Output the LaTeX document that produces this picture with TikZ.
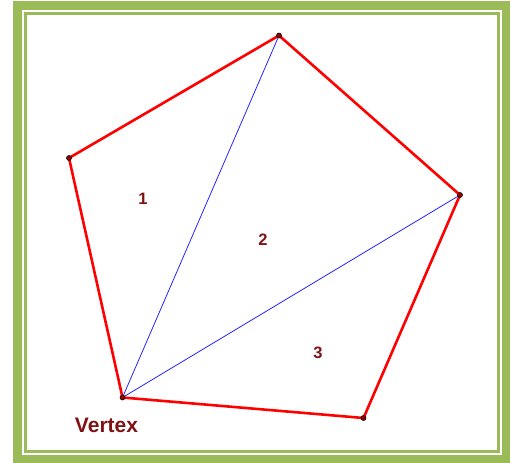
\documentclass[tikz,border=0pt]{standalone}
\usepackage{fontspec}
\setmainfont{Liberation Sans}
\begin{document}
\begin{tikzpicture}[x=1pt,y=-1pt,
  frameout/.style={draw=framegreen,line width=8.3pt},
  framein/.style={draw=framegreen,line width=3pt},
  edge/.style={draw=red,line width=2.6pt,line join=round},
  diag/.style={draw=blue!85!white,line width=0.8pt},
  vdot/.style={circle,fill=red!60!black,draw=black,line width=0.6pt,inner sep=0pt,minimum size=5pt},
  lbl/.style={text=darkred,font=\bfseries\fontsize{16.5}{16.5}\selectfont,inner sep=0pt}]
\definecolor{framegreen}{HTML}{9BBB59}
\definecolor{darkred}{HTML}{7F1212}
\useasboundingbox (0,0) rectangle (514,463);
\fill[white] (0,0) rectangle (514,463);
\draw[frameout] (17.5,5.5) rectangle (506,459.3);
\draw[framein] (25.4,13.6) rectangle (498.4,451.4);
\coordinate (A) at (279,35.5);
\coordinate (B) at (460,195);
\coordinate (C) at (363.5,418);
\coordinate (D) at (122.5,397.5);
\coordinate (E) at (69,158);
\draw[diag] (D) -- (A);
\draw[diag] (D) -- (B);
\draw[edge] (A) -- (B) -- (C) -- (D) -- (E) -- cycle;
\foreach \p in {A,B,C,D,E} \node[vdot] at (\p) {};
\node[lbl] (n1) at (143,198.5) {1};
\node[lbl] (n2) at (263,240) {2};
\node[lbl] (n3) at (318,353) {3};
\node[lbl,font=\bfseries\fontsize{21}{21}\selectfont] (vx) at (106.5,425) {Vertex};
\end{tikzpicture}
\end{document}
